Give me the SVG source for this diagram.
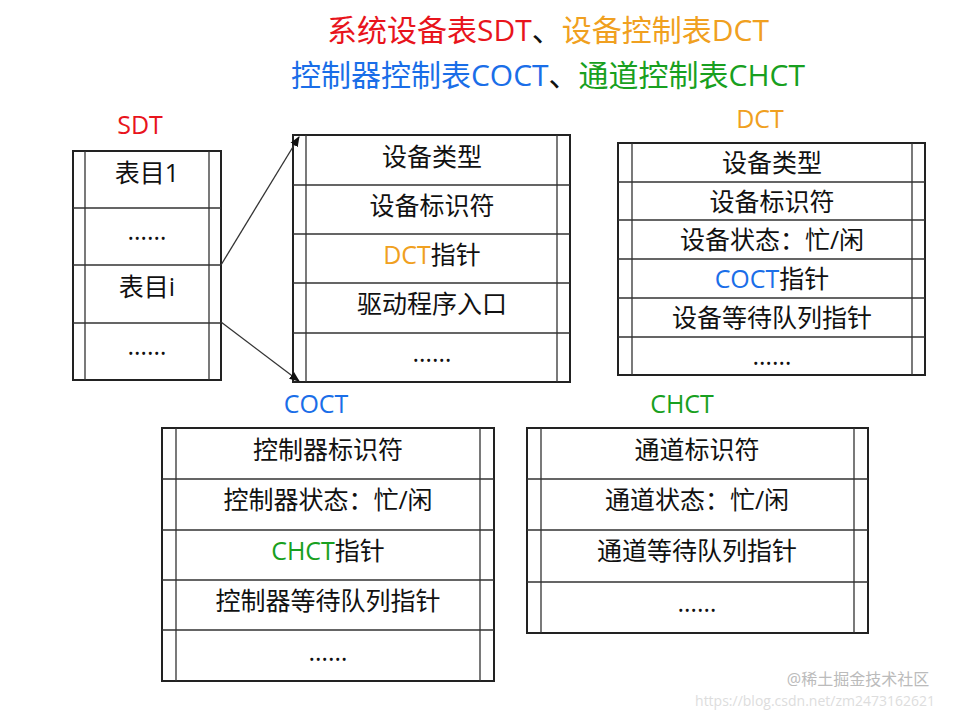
<svg xmlns="http://www.w3.org/2000/svg" width="957" height="712" viewBox="0 0 957 712">
<style>
text{font-family:"Open Sans","Noto Sans CJK SC",sans-serif;text-anchor:middle;fill:#111}
.t{font-size:30px}.l{font-size:25px}.c{font-size:25px}
.box{fill:#fff;stroke:#222;stroke-width:2}
.ln{stroke:#333;stroke-width:1.3;fill:none}
.red{fill:#e8141c}.or{fill:#f0a020}.bl{fill:#1a6ee8}.gr{fill:#18a020}
</style>
<defs><marker id="ah" viewBox="0 0 10 10" refX="9" refY="5" markerWidth="8" markerHeight="8" orient="auto"><path d="M0,1L10,5L0,9z" fill="#111"/></marker></defs>
<g id="title">
<text class="t" x="548" y="41"><tspan class="red">系统设备表SDT</tspan>、<tspan class="or">设备控制表DCT</tspan></text>
<text class="t" x="548" y="86"><tspan class="bl">控制器控制表COCT</tspan>、<tspan class="gr">通道控制表CHCT</tspan></text>
</g>
<g id="sdt">
<text class="l red" x="140" y="134">SDT</text>
<rect class="box" x="73" y="151" width="148" height="229"/>
<path class="ln" d="M85 151V380M209 151V380M73 208H221M73 265H221M73 323H221"/>
<text class="c" x="147" y="182">表目1</text>
<text class="c" x="147" y="240">……</text>
<text class="c" x="147" y="296">表目i</text>
<text class="c" x="147" y="355">……</text>
</g>
<g id="entry">
<rect class="box" x="293" y="135" width="277" height="247"/>
<path class="ln" d="M306 135V382M557 135V382M293 185H570M293 234H570M293 283H570M293 333H570"/>
<text class="c" x="432" y="166">设备类型</text>
<text class="c" x="432" y="215">设备标识符</text>
<text class="c" x="432" y="264"><tspan class="or">DCT</tspan>指针</text>
<text class="c" x="432" y="313">驱动程序入口</text>
<text class="c" x="432" y="362">……</text>
</g>
<g id="dct">
<text class="l or" x="760" y="128">DCT</text>
<rect class="box" x="618" y="143" width="307" height="232"/>
<path class="ln" d="M632 143V375M912 143V375M618 182H925M618 220H925M618 259H925M618 298H925M618 337H925"/>
<text class="c" x="772" y="172">设备类型</text>
<text class="c" x="772" y="211">设备标识符</text>
<text class="c" x="772" y="249">设备状态：忙/闲</text>
<text class="c" x="772" y="288"><tspan class="bl">COCT</tspan>指针</text>
<text class="c" x="772" y="327">设备等待队列指针</text>
<text class="c" x="772" y="365">……</text>
</g>
<g id="coct">
<text class="l bl" x="316" y="413">COCT</text>
<rect class="box" x="162" y="428" width="332" height="253"/>
<path class="ln" d="M176 428V681M480 428V681M162 479H494M162 530H494M162 580H494M162 630H494"/>
<text class="c" x="328" y="459">控制器标识符</text>
<text class="c" x="328" y="509">控制器状态：忙/闲</text>
<text class="c" x="328" y="560"><tspan class="gr">CHCT</tspan>指针</text>
<text class="c" x="328" y="610">控制器等待队列指针</text>
<text class="c" x="328" y="661">……</text>
</g>
<g id="chct">
<text class="l gr" x="682" y="413">CHCT</text>
<rect class="box" x="527" y="428" width="341" height="205"/>
<path class="ln" d="M541 428V633M854 428V633M527 479H868M527 530H868M527 582H868"/>
<text class="c" x="697" y="459">通道标识符</text>
<text class="c" x="697" y="509">通道状态：忙/闲</text>
<text class="c" x="697" y="560">通道等待队列指针</text>
<text class="c" x="697" y="612">……</text>
</g>
<g id="connectors">
<line class="ln" x1="221" y1="265" x2="299" y2="137" marker-end="url(#ah)"/>
<line class="ln" x1="221" y1="322" x2="299" y2="381" marker-end="url(#ah)"/>
</g>
<g id="watermark">
<text x="858" y="685" style="font-size:16px;fill:#bbb">@稀土掘金技术社区</text>
<text x="815" y="706" style="font-size:14px;fill:#ddd">https://blog.csdn.net/zm2473162621</text>
</g>
</svg>
